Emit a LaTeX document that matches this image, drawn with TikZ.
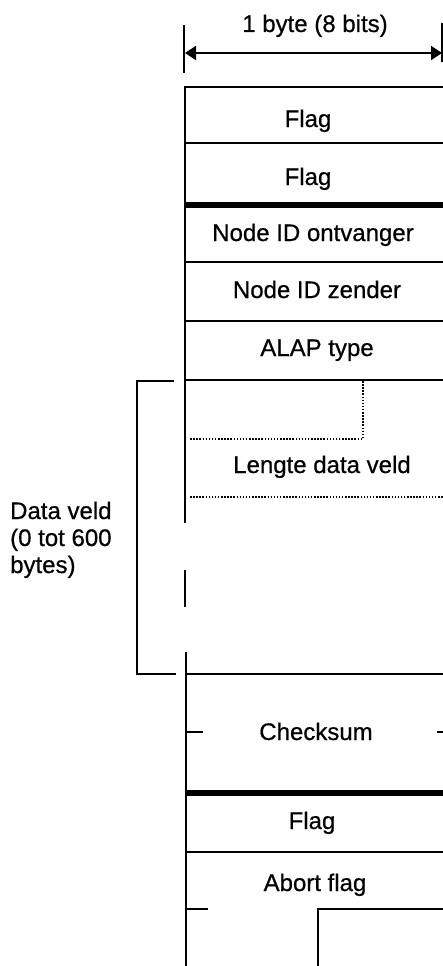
\documentclass[tikz,border=0pt]{standalone}
\usepackage{fontspec}
\setmainfont{Liberation Sans}
\usetikzlibrary{arrows.meta}
\begin{document}
\begin{tikzpicture}[x=1pt,y=-1pt,
  lbl/.style={font=\fontsize{24}{27}\selectfont\addfontfeatures{FakeBold=0.6}, anchor=base, inner sep=0pt},
  frame/.style={line width=2.4pt},
  thin/.style={line width=2.2pt},
  heavy/.style={line width=5.5pt},
  dots/.style={line width=2pt, dash pattern=on 1.5pt off 1.6pt}]
\useasboundingbox (0,0) rectangle (443,966);
% dimension
\draw[frame] (184,25) -- (184,73);
\draw[line width=1.4pt] (442,23) -- (442,62);
\draw[line width=2.2pt, {Triangle[length=11pt,width=14pt]}-{Triangle[length=11pt,width=14pt]}] (185,53) -- (442,53);
\node[lbl] (hdr) at (315,32) {1 byte (8 bits)};
% main left line
\draw[frame] (185,87) -- (185,523);
\draw[frame] (185,570) -- (185,607);
\draw[frame] (186,652) -- (186,966);
% fields
\draw[thin] (184,87) -- (443,87);
\node[lbl] (f1) at (308,127) {Flag};
\draw[thin] (185,143) -- (443,143);
\node[lbl] (f2) at (308,185) {Flag};
\draw[heavy] (185,205) -- (443,205);
\node[lbl] (nidr) at (313,241) {Node ID ontvanger};
\draw[thin] (185,262) -- (443,262);
\node[lbl] (nids) at (317,298) {Node ID zender};
\draw[thin] (185,321) -- (443,321);
\node[lbl] (alap) at (317,356) {ALAP type};
\draw[thin] (185,380) -- (443,380);
\draw[dots] (363,381) -- (363,439) -- (190,439);
\node[lbl] (len) at (322,473) {Lengte data veld};
\draw[dots] (190,497) -- (443,497);
% bracket
\draw[frame] (174,381) -- (137,381) -- (137,674) -- (176,674);
\node[lbl, anchor=base west] (dv1) at (10,519) {Data veld};
\node[lbl, anchor=base west] (dv2) at (10,546) {(0 tot 600};
\node[lbl, anchor=base west] (dv3) at (10,573) {bytes)};
% checksum
\draw[thin] (186,674) -- (443,674);
\draw[thin] (186,732) -- (203,732);
\draw[thin] (437,732) -- (443,732);
\node[lbl] (cks) at (316,740) {Checksum};
\draw[heavy] (186,793) -- (443,793);
\node[lbl] (f3) at (312,829) {Flag};
\draw[thin] (186,852) -- (443,852);
\node[lbl] (ab) at (315,891) {Abort flag};
\draw[thin] (186,909) -- (208,909);
\draw[thin] (443,909) -- (318,909) -- (318,966);
\end{tikzpicture}
\end{document}
